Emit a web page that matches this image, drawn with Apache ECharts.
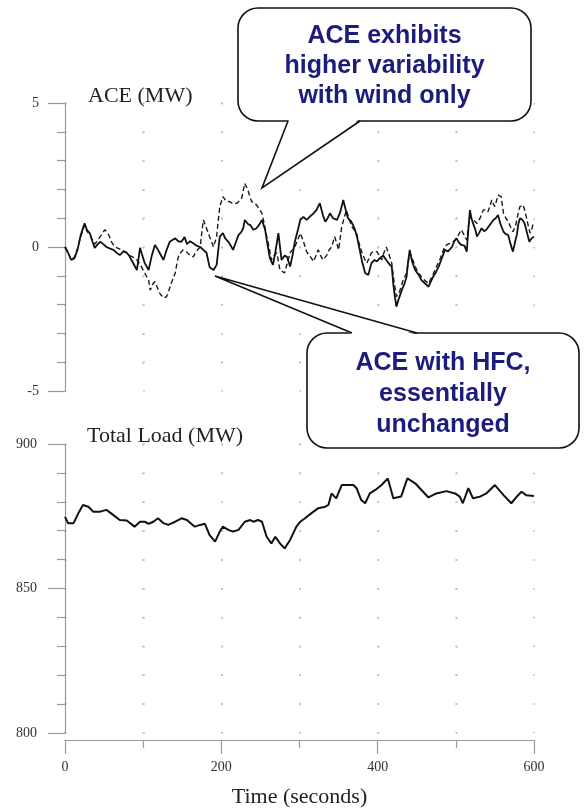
<!DOCTYPE html>
<html>
<head>
<meta charset="utf-8">
<script src="https://cdn.jsdelivr.net/npm/echarts@6/dist/echarts.min.js"></script>
<style>
  html, body { margin: 0; padding: 0; background: #fff; }
  #chart { width: 584px; height: 812px; }
</style>
</head>
<body>
<div id="chart"></div>
<script>
// ACE with HFC (solid): [time s, MW]
const aceHfc = [[0,0],[4,-0.2],[8,-0.45],[12,-0.4],[16,-0.1],[20,0.4],[25,0.82],[28,0.6],[32,0.47],[35,0.2],[38,-0.03],[42,0.1],[45,0.18],[49,0.1],[53,0],[57,-0.05],[62,-0.1],[66,-0.2],[70,-0.28],[75,-0.15],[79,-0.2],[82,-0.3],[85,-0.45],[88,-0.6],[92,-0.8],[96,-0.03],[99,-0.3],[102,-0.56],[107,-0.8],[111,-0.3],[115,0.07],[118,-0.05],[121,-0.2],[126,-0.45],[130,-0.1],[134,0.18],[138,0.25],[141,0.3],[145,0.2],[149,0.18],[153,0.35],[156,0.1],[160,0.2],[164,0.13],[168,0.05],[173,0],[177,-0.1],[181,-0.2],[185,-0.7],[190,-0.8],[194,-0.62],[198,0.36],[202,0.48],[205,0.3],[209,0.18],[212,0.05],[215,-0.1],[219,0.2],[222,0.42],[225,0.5],[228,0.65],[230,0.94],[234,0.8],[237,0.76],[241,0.6],[245,0.65],[249,0.8],[252,0.94],[256,0.6],[259,0.1],[262,-0.38],[266,-0.62],[269,-0.2],[273,0.48],[277,-0.45],[281,-0.3],[284,-0.34],[288,-0.68],[291,-0.3],[294,0.18],[298,0.6],[301,0.94],[305,1.05],[309,0.94],[313,1.05],[318,1.17],[322,1.3],[326,1.52],[330,1.1],[333,0.88],[336,1.0],[339,1.17],[343,1.0],[348,0.94],[352,1.2],[356,1.63],[359,1.3],[362,1.0],[366,0.9],[371,0.6],[374,0.3],[377,-0.1],[380,-0.5],[384,-0.9],[388,-0.97],[392,-0.56],[396,-0.45],[399,-0.5],[403,-0.38],[407,-0.3],[411,-0.45],[415,-0.6],[418,-0.68],[420,-1.3],[422,-1.72],[424,-2.07],[427,-1.8],[431,-1.49],[434,-1.3],[437,-1.03],[439,-0.5],[441,-0.1],[444,-0.5],[448,-0.8],[452,-0.95],[456,-1.15],[460,-1.25],[465,-1.38],[468,-1.2],[471,-1.03],[475,-0.85],[478,-0.68],[482,-0.4],[486,-0.1],[490,-0.15],[495,0],[498,0.2],[501,0.3],[504,0.15],[507,0.07],[511,0.05],[514,-0.16],[516,0.6],[518,1.28],[520,1.0],[522,0.82],[525,0.6],[527,0.36],[530,0.5],[533,0.65],[536,0.55],[539,0.6],[543,0.75],[548,0.94],[551,1.0],[554,1.11],[557,0.8],[561,0.53],[564,0.45],[567,0.42],[570,0.1],[573,-0.16],[576,0.2],[578,0.42],[580,0.8],[582,1.0],[585,0.95],[588,0.82],[591,0.5],[594,0.18],[597,0.3],[600,0.36]];

// ACE with wind only (dashed): [time s, MW]
const aceWind = [[0,0],[4,-0.2],[8,-0.45],[12,-0.35],[16,-0.05],[20,0.35],[25,0.75],[28,0.55],[32,0.4],[35,0.25],[38,0.1],[42,0.24],[46,0.4],[51,0.6],[54,0.5],[57,0.36],[60,0.15],[64,0],[68,-0.05],[72,-0.1],[76,-0.15],[79,-0.2],[83,-0.3],[87,-0.35],[92,-0.45],[95,-0.55],[98,-0.7],[102,-0.9],[105,-1.05],[107,-1.15],[109,-1.5],[112,-1.3],[115,-1.2],[117,-1.25],[121,-1.6],[124,-1.7],[126,-1.77],[130,-1.72],[133,-1.5],[136,-1.25],[139,-1.05],[141,-0.9],[143,-0.6],[145,-0.34],[148,-0.2],[151,-0.1],[155,-0.15],[160,-0.3],[164,-0.34],[168,-0.15],[173,0],[175,0.5],[177,0.94],[181,0.65],[185,0.36],[188,0.15],[190,0],[194,0.36],[196,0.9],[198,1.4],[202,1.75],[206,1.6],[211,1.57],[215,1.5],[220,1.52],[223,1.6],[226,1.69],[230,2.21],[234,1.98],[237,1.7],[239,1.57],[242,1.55],[245,1.46],[249,1.3],[252,1.17],[255,0.8],[258,0.36],[261,0],[264,-0.45],[267,-0.3],[271,-0.2],[275,-0.8],[278,-0.85],[281,-0.9],[285,-0.5],[288,-0.2],[291,-0.1],[294,0],[297,0.2],[301,0.48],[305,0.2],[309,-0.16],[313,-0.3],[318,-0.5],[321,-0.3],[324,-0.1],[327,-0.3],[330,-0.45],[335,-0.28],[338,-0.1],[341,0],[345,0.36],[348,0.1],[350,-0.1],[352,0.3],[354,0.7],[357,1.0],[360,1.28],[363,1.0],[367,0.7],[370,0.6],[373,0.48],[376,0.15],[380,-0.2],[383,-0.4],[386,-0.56],[389,-0.4],[392,-0.2],[395,-0.15],[399,-0.16],[402,-0.3],[405,-0.45],[408,-0.2],[411,0],[415,-0.3],[418,-0.56],[421,-1.2],[424,-1.72],[428,-1.55],[432,-1.2],[437,-0.9],[441,-0.2],[445,-0.45],[448,-0.68],[452,-0.9],[456,-1.03],[460,-1.15],[465,-1.27],[470,-1.0],[475,-0.7],[480,-0.4],[486,0.03],[490,0.1],[495,0.15],[499,0.24],[503,0.4],[507,0.6],[511,0.4],[514,0.24],[516,0.7],[518,1.05],[522,0.95],[527,0.82],[531,1.0],[535,1.28],[538,1.3],[541,1.22],[544,1.45],[546,1.63],[548,1.5],[550,1.4],[552,1.6],[554,1.8],[558,1.75],[561,1.17],[564,1.0],[567,0.88],[570,0.7],[573,0.53],[576,0.7],[578,0.94],[580,1.2],[582,1.4],[586,1.46],[589,1.2],[591,0.94],[593,0.7],[595,0.48],[597,0.6],[599,0.82],[600,0.8]];

// Total load: [time s, MW]
const totalLoad = [[0,874.8],[4,872.6],[11,872.6],[17,876],[23,878.9],[30,878.3],[36,876.6],[45,876.6],[53,877.2],[62,875.4],[70,873.7],[79,873.5],[89,871.4],[96,873.1],[102,873.1],[107,872.4],[113,873.1],[119,874.3],[126,872.6],[132,872],[141,873.1],[149,874.3],[156,873.7],[166,871.4],[173,872],[179,872.4],[185,868.5],[192,866.2],[198,869.7],[202,871.4],[209,870.3],[215,869.7],[222,870.3],[230,873.1],[237,873.7],[241,873.1],[247,873.7],[252,873.1],[258,867.9],[264,865.6],[269,867.9],[275,865.6],[281,863.9],[288,866.8],[296,871.4],[301,873.1],[307,874.3],[315,876],[324,877.8],[333,878.3],[337,878.9],[341,882.9],[347,881.2],[354,885.8],[362,885.8],[369,885.8],[373,884.7],[379,880.6],[384,879.5],[390,882.9],[397,884.1],[405,885.8],[413,888.1],[420,881.2],[430,881.8],[438,888.1],[448,886.4],[456,884.1],[465,881.5],[475,882.9],[488,883.7],[499,882.9],[505,881.8],[509,879.5],[516,884.7],[522,881.2],[531,881.8],[539,882.9],[550,885.8],[561,882.3],[571,879.5],[578,881.8],[584,883.5],[590,882.3],[600,882]];

// Axis settings
const timeRange = [0, 600];
const aceRange = [-5, 5];
const loadRange = [800, 900];

const serif = '"Liberation Serif", "DejaVu Serif", serif';
const sans = '"Liberation Sans", Arial, sans-serif';
const axisGrey = '#9a9a9a';
const dotGrey = '#b8b8b8';
const calloutBlue = '#1c1c7c';

const chart = echarts.init(document.getElementById('chart'), null, { renderer: 'canvas' });

// Dotted grid: short dashes spaced so they land on tick intersections
const dotsV = { color: dotGrey, width: 1.5, type: [1.5, 27.3] };
const dotsH = { color: dotGrey, width: 1.5, type: [1.5, 76.7] };

// Speech-bubble callout: rounded box + pointer whose base sits on one edge
function callout(box, base, tip, text, textY, lineHeight) {
  const cx = box.x + box.width / 2;
  const edgeY = base[0][1];
  const inward = edgeY > box.y + box.height / 2 ? -1.5 : 1.5;
  return [
    {
      type: 'rect', z: 100,
      shape: { x: box.x, y: box.y, width: box.width, height: box.height, r: box.r },
      style: { fill: '#fff', stroke: '#111', lineWidth: 1.6 }
    },
    {
      // white wedge hides the box edge between the pointer's base points
      type: 'polygon', z: 101,
      shape: { points: [[base[0][0] + 1, edgeY + inward], tip, [base[1][0] - 1, edgeY + inward]] },
      style: { fill: '#fff', stroke: null }
    },
    {
      type: 'polyline', z: 102,
      shape: { points: [base[0], tip, base[1]] },
      style: { fill: null, stroke: '#111', lineWidth: 1.6 }
    },
    {
      type: 'text', z: 103,
      style: {
        text: text, x: cx, y: textY, align: 'center', verticalAlign: 'top',
        font: 'bold 25px ' + sans, lineHeight: lineHeight, fill: calloutBlue
      }
    }
  ];
}

const graphics = [].concat(
  callout({ x: 238, y: 8, width: 293, height: 113, r: 20 },
          [[288, 121], [360, 121]], [262, 188],
          'ACE exhibits\nhigher variability\nwith wind only', 21, 30),
  callout({ x: 307, y: 333, width: 272, height: 115, r: 20 },
          [[352, 333], [417, 333]], [215, 276],
          'ACE with HFC,\nessentially\nunchanged', 348, 31)
);

const labelFont = { fontFamily: serif, fontSize: 22, fontWeight: 'normal', color: '#222' };

chart.setOption({
  animation: false,
  backgroundColor: '#fff',
  title: [
    { text: 'ACE (MW)', left: 83, top: 80, textStyle: labelFont },
    { text: 'Total Load (MW)', left: 82, top: 420, textStyle: labelFont }
  ],
  grid: [
    { left: 65, right: 50, top: 103, height: 288 },
    { left: 65, right: 50, top: 444, height: 289 }
  ],
  xAxis: [
    {
      type: 'value', gridIndex: 0, min: timeRange[0], max: timeRange[1], interval: 100,
      axisLine: { show: false }, axisTick: { show: false }, axisLabel: { show: false },
      splitLine: { show: true, lineStyle: dotsV }
    },
    {
      type: 'value', gridIndex: 1, min: timeRange[0], max: timeRange[1], interval: 200,
      offset: 7,
      name: 'Time (seconds)', nameLocation: 'middle', nameGap: 46,
      nameTextStyle: labelFont,
      axisLine: { show: true, lineStyle: { color: axisGrey, width: 1.2 } },
      axisTick: { show: true, length: 14, lineStyle: { color: axisGrey, width: 1.2 } },
      minorTick: { show: true, splitNumber: 2, length: 8, lineStyle: { color: axisGrey, width: 1.2 } },
      axisLabel: { margin: 20, fontFamily: serif, fontSize: 14, color: '#333' },
      splitLine: { show: true, lineStyle: dotsV },
      minorSplitLine: { show: true, lineStyle: dotsV }
    }
  ],
  yAxis: [
    {
      type: 'value', gridIndex: 0, min: aceRange[0], max: aceRange[1], interval: 5,
      axisLine: { show: true, lineStyle: { color: axisGrey, width: 1.2 } },
      axisTick: { show: true, length: 17, lineStyle: { color: axisGrey, width: 1.2 } },
      minorTick: { show: true, splitNumber: 5, length: 8, lineStyle: { color: axisGrey, width: 1.2 } },
      axisLabel: { margin: 26, fontFamily: serif, fontSize: 14, color: '#333' },
      splitLine: { show: true, lineStyle: dotsH },
      minorSplitLine: { show: true, lineStyle: dotsH }
    },
    {
      type: 'value', gridIndex: 1, min: loadRange[0], max: loadRange[1], interval: 50,
      axisLine: { show: true, lineStyle: { color: axisGrey, width: 1.2 } },
      axisTick: { show: true, length: 17, lineStyle: { color: axisGrey, width: 1.2 } },
      minorTick: { show: true, splitNumber: 5, length: 8, lineStyle: { color: axisGrey, width: 1.2 } },
      axisLabel: { margin: 28, fontFamily: serif, fontSize: 14, color: '#333' },
      splitLine: { show: true, lineStyle: dotsH },
      minorSplitLine: { show: true, lineStyle: dotsH }
    }
  ],
  series: [
    {
      name: 'ACE, wind only', type: 'line', xAxisIndex: 0, yAxisIndex: 0,
      data: aceWind, showSymbol: false, symbol: 'none', z: 2,
      lineStyle: { color: '#1a1a1a', width: 1.4, type: [5, 3] }
    },
    {
      name: 'ACE with HFC', type: 'line', xAxisIndex: 0, yAxisIndex: 0,
      data: aceHfc, showSymbol: false, symbol: 'none', z: 3,
      lineStyle: { color: '#111', width: 1.8 }
    },
    {
      name: 'Total load', type: 'line', xAxisIndex: 1, yAxisIndex: 1,
      data: totalLoad, showSymbol: false, symbol: 'none',
      lineStyle: { color: '#111', width: 2 }
    }
  ],
  graphic: graphics
});
</script>
</body>
</html>
